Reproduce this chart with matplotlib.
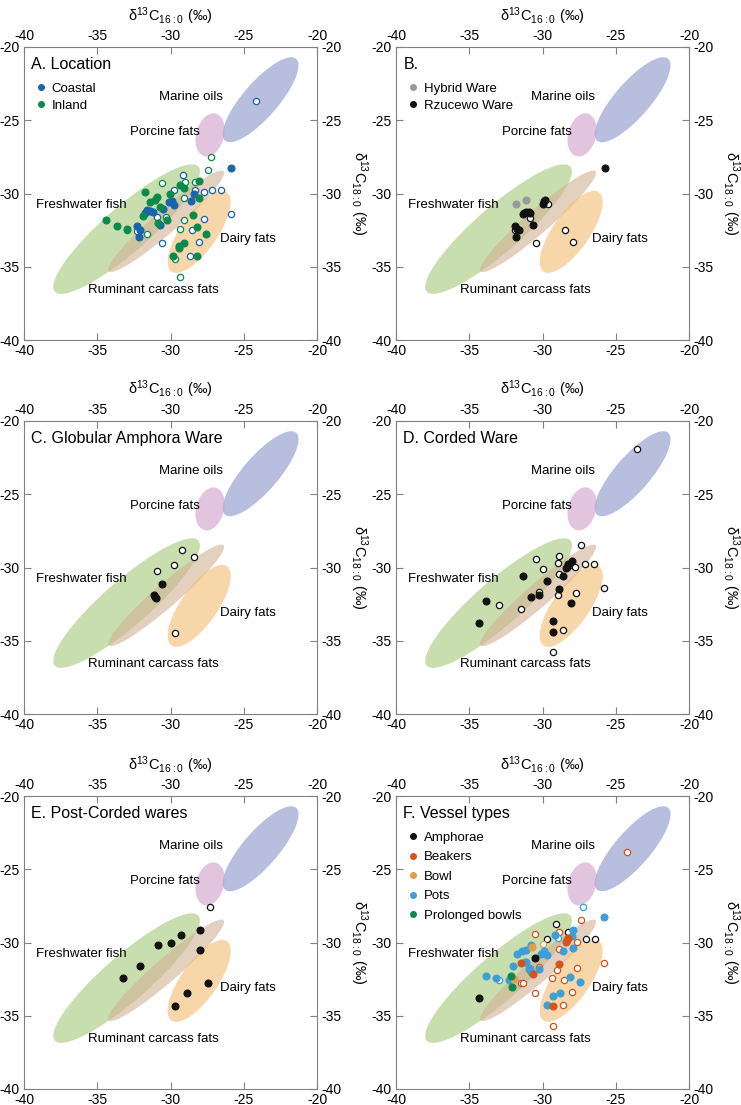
import matplotlib
matplotlib.use("Agg")
import matplotlib.pyplot as plt
from matplotlib.patches import Ellipse
from matplotlib.lines import Line2D

plt.rcParams['font.family'] = ['Liberation Sans', 'DejaVu Sans']
plt.rcParams['mathtext.fontset'] = 'custom'
plt.rcParams['mathtext.rm'] = 'Liberation Sans'
plt.rcParams['mathtext.default'] = 'regular'
plt.rcParams['axes.unicode_minus'] = False

# reference ellipses: (name, centre x, centre y, major, minor, angle, colour)
ref_names = ["Marine oils", "Porcine fats", "Freshwater fish", "Ruminant carcass fats", "Dairy fats"]
ref_cx = [-23.85, -27.3, -33.0, -30.3, -28.04]
ref_cy = [-23.6, -26.0, -32.43, -31.9, -32.62]
ref_major = [7.4, 3.0, 13.0, 10.4, 6.6]
ref_minor = [2.4, 1.9, 3.1, 1.6, 2.5]
ref_angle = [49, 75, 41, 41, 55]
ref_colors = ['#8993c8', '#cf9dcb', '#a6c97a', '#d2b193', '#f3bb71']
# label positions (data coords) and alignment
lab_x = [-28.6, -30.4, -36.1, -31.2, -26.6]
lab_y = [-23.4, -25.8, -30.8, -36.6, -33.1]
lab_ha = ['center', 'center', 'center', 'center', 'left']

# A. Location
coastal_filled = [(-25.84, -28.24), (-28.43, -30.0), (-28.63, -30.5), (-30.11, -30.6), (-29.77, -30.78),
                  (-30.53, -31.05), (-31.6, -31.15), (-31.4, -31.2), (-31.75, -31.3), (-31.2, -31.25),
                  (-30.73, -32.15), (-32.26, -32.24), (-32.08, -32.47), (-32.18, -33.0), (-29.9, -30.5)]
coastal_open = [(-24.18, -23.7), (-29.16, -28.72), (-29.77, -29.73), (-28.36, -29.73), (-27.74, -29.9),
                (-27.14, -29.73), (-26.55, -29.73), (-30.9, -31.6), (-27.74, -31.75), (-25.84, -31.37),
                (-28.55, -32.5), (-32.3, -32.58), (-30.55, -33.4), (-28.03, -33.3), (-28.7, -34.25)]
inland_filled = [(-29.36, -29.43), (-28.03, -29.13), (-29.08, -29.64), (-31.76, -29.9), (-30.91, -30.23),
                 (-30.04, -30.0), (-28.03, -30.3), (-31.03, -30.45), (-31.37, -30.6), (-31.87, -31.55),
                 (-30.26, -31.78), (-34.43, -31.78), (-30.87, -32.0), (-33.65, -32.24), (-33.0, -32.4),
                 (-28.48, -31.45), (-28.2, -32.3), (-27.57, -32.76), (-29.06, -33.4), (-29.43, -33.7),
                 (-29.4, -33.55), (-29.81, -34.3), (-28.2, -34.3), (-30.7, -30.9)]
inland_open = [(-27.26, -27.5), (-27.44, -28.42), (-30.55, -29.29), (-29.0, -29.2), (-28.36, -29.2),
               (-29.08, -30.3), (-30.33, -31.6), (-33.0, -32.5), (-31.6, -32.74), (-29.1, -31.83),
               (-29.34, -32.4), (-29.72, -34.5), (-29.36, -35.73)]

# B.
hybrid_filled = [(-31.78, -30.71), (-31.14, -30.43)]
rzucewo_filled = [(-29.91, -30.5), (-29.85, -30.45), (-30.0, -30.7), (-31.25, -31.3), (-31.1, -31.25),
                  (-30.95, -31.25), (-30.85, -31.3), (-31.3, -31.4), (-30.64, -32.15), (-31.9, -32.2),
                  (-31.75, -32.4), (-31.6, -32.5), (-31.8, -33.0), (-25.75, -28.24)]
b_open = [(-29.65, -30.7), (-30.84, -31.67), (-31.9, -32.5), (-30.46, -33.4), (-28.45, -32.5), (-27.95, -33.3)]

# C. Globular Amphora Ware
gaw_filled = [(-30.58, -31.1), (-31.1, -31.9), (-31.05, -32.0), (-31.0, -32.1)]
gaw_open = [(-29.19, -28.8), (-28.4, -29.3), (-29.78, -29.8), (-30.9, -30.27), (-29.7, -34.5)]

# D. Corded Ware
cw_filled = [(-27.99, -29.55), (-28.28, -29.77), (-28.41, -30.05), (-28.35, -29.95), (-28.58, -30.57),
             (-31.35, -30.57), (-29.67, -30.89), (-28.87, -31.48), (-30.78, -31.98), (-30.26, -31.89),
             (-33.86, -32.28), (-28.08, -32.39), (-34.35, -33.78), (-29.3, -33.67), (-29.3, -34.37)]
cw_open = [(-27.37, -28.48), (-30.46, -29.39), (-28.87, -29.23), (-28.96, -29.66), (-29.95, -30.09),
           (-28.1, -29.85), (-27.76, -29.95), (-27.08, -29.75), (-26.48, -29.75), (-28.87, -30.41),
           (-25.8, -31.39), (-30.26, -31.7), (-28.96, -31.86), (-27.68, -31.75), (-32.97, -32.57),
           (-31.47, -32.8), (-28.58, -34.28), (-29.28, -35.78), (-23.55, -21.9)]

# E. Post-Corded wares
pcw_filled = [(-27.97, -29.18), (-29.27, -29.47), (-29.97, -30.04), (-30.88, -30.16), (-27.97, -30.5),
              (-32.06, -31.57), (-33.26, -32.43), (-27.43, -32.77), (-28.84, -33.45), (-29.71, -34.32)]
pcw_open = [(-27.28, -27.58)]

# F. Vessel types
amph_filled = [(-30.48, -31.08), (-34.35, -33.76)]
amph_open = [(-29.07, -28.77), (-28.27, -29.27), (-29.66, -29.78), (-27.03, -29.78), (-26.42, -29.78)]
beak_filled = [(-28.3, -29.8), (-28.4, -29.95), (-28.25, -29.7), (-31.45, -31.38), (-28.87, -31.49),
               (-30.62, -32.17), (-29.28, -34.33)]
beak_open = [(-24.23, -23.8), (-27.39, -28.48), (-28.87, -29.27), (-30.48, -29.39), (-27.62, -29.96),
             (-28.87, -30.42), (-30.23, -31.68), (-28.98, -31.88), (-27.64, -31.77), (-25.8, -31.38),
             (-31.47, -32.78), (-29.33, -32.44), (-28.53, -32.55), (-28.0, -33.37), (-30.48, -33.46),
             (-28.6, -34.26), (-29.3, -35.7), (-31.3, -32.74)]
bowl_filled = [(-30.74, -30.28), (-31.97, -32.48)]
bowl_open = [(-29.96, -30.1)]
pots_filled = [(-25.8, -28.28), (-27.89, -29.18), (-29.18, -29.5), (-28.0, -29.55), (-27.89, -30.4),
               (-28.62, -30.58), (-30.81, -30.19), (-31.15, -30.51), (-31.4, -30.56), (-31.77, -30.78),
               (-30.1, -30.78), (-29.9, -30.58), (-29.7, -30.87), (-31.2, -31.3), (-31.1, -31.3),
               (-31.99, -31.58), (-30.25, -31.84), (-30.9, -31.84), (-30.76, -32.0), (-33.87, -32.26),
               (-33.17, -32.44), (-32.3, -32.55), (-28.1, -32.37), (-27.41, -32.73), (-28.8, -33.46),
               (-29.3, -33.64), (-29.67, -34.3)]
pots_open = [(-27.21, -27.6), (-28.97, -29.7), (-30.84, -31.72), (-32.95, -32.55), (-32.2, -32.5)]
prol_filled = [(-32.17, -32.28), (-32.06, -33.05)]

c_coastal = '#1a63ad'
c_inland = '#0b8a4c'
c_gray = '#9a9a9a'
c_black = '#111111'
c_beak = '#d4531c'
c_bowl = '#e39b4e'
c_pots = '#3d9fd6'

xlab = r'$\delta^{13}C_{16:0}$ (‰)'
ylab = r'$\delta^{13}C_{18:0}$ (‰)'

fig = plt.figure(figsize=(7.41, 11.05), dpi=100)
lefts = [24 / 741, 396 / 741]
bottoms = [1 - 340 / 1105, 1 - 714 / 1105, 1 - 1089 / 1105]
w = 293 / 741
h = 293 / 1105

axes = []
for r in range(3):
    for c in range(2):
        ax = fig.add_axes([lefts[c], bottoms[r], w, h])
        axes.append(ax)


def setup(ax):
    ax.set_xlim(-40, -20)
    ax.set_ylim(-40, -20)
    ax.set_xticks([-40, -35, -30, -25, -20])
    ax.set_yticks([-40, -35, -30, -25, -20])
    ax.tick_params(direction='in', top=True, right=True, labeltop=True, labelright=True,
                   length=5, color='#808080', labelsize=10, pad=3)
    for s in ax.spines.values():
        s.set_color('#808080')
    ax.xaxis.set_label_position('top')
    ax.set_xlabel(xlab, fontsize=10.5, labelpad=6)
    ax.yaxis.set_label_position('right')
    ax.set_ylabel(ylab, fontsize=10.5, rotation=270, labelpad=20)
    for i in range(len(ref_names)):
        e = Ellipse((ref_cx[i], ref_cy[i]), ref_major[i], ref_minor[i], angle=ref_angle[i],
                    facecolor=ref_colors[i], edgecolor='none', alpha=0.6, zorder=1)
        ax.add_patch(e)
        ax.text(lab_x[i], lab_y[i], ref_names[i], ha=lab_ha[i], va='center', fontsize=9.5, zorder=2)


def pts(ax, data, color, filled):
    xs = [p[0] for p in data]
    ys = [p[1] for p in data]
    if filled:
        ax.plot(xs, ys, 'o', ms=5, mfc=color, mec=color, mew=0.8, ls='none', zorder=4)
    else:
        ax.plot(xs, ys, 'o', ms=4.5, mfc='white', mec=color, mew=0.9, ls='none', zorder=3)


def title(ax, text):
    ax.text(0.025, 0.94, text, transform=ax.transAxes, fontsize=11.5, va='center', ha='left')


def legend(ax, text, labels, colors, gap):
    title(ax, text)
    handles = [Line2D([], [], marker='o', ls='none', ms=4, mfc=c, mec=c) for c in colors]
    ax.legend(handles, labels, loc='upper left', bbox_to_anchor=(0.0, 0.91), frameon=False,
              fontsize=9.5, handletextpad=0.2, labelspacing=gap, borderaxespad=0.3, handlelength=1.2)


for ax in axes:
    setup(ax)

ax = axes[0]
pts(ax, coastal_open, c_coastal, False)
pts(ax, inland_open, c_inland, False)
pts(ax, coastal_filled, c_coastal, True)
pts(ax, inland_filled, c_inland, True)
legend(ax, "A. Location", ["Coastal", "Inland"], [c_coastal, c_inland], 0.35)

ax = axes[1]
pts(ax, b_open, c_black, False)
pts(ax, rzucewo_filled, c_black, True)
pts(ax, hybrid_filled, c_gray, True)
legend(ax, "B.", ["Hybrid Ware", "Rzucewo Ware"], [c_gray, c_black], 0.35)

ax = axes[2]
pts(ax, gaw_open, c_black, False)
pts(ax, gaw_filled, c_black, True)
title(ax, "C. Globular Amphora Ware")

ax = axes[3]
pts(ax, cw_open, c_black, False)
pts(ax, cw_filled, c_black, True)
title(ax, "D. Corded Ware")

ax = axes[4]
pts(ax, pcw_open, c_black, False)
pts(ax, pcw_filled, c_black, True)
title(ax, "E. Post-Corded wares")

ax = axes[5]
pts(ax, amph_open, c_black, False)
pts(ax, beak_open, c_beak, False)
pts(ax, bowl_open, c_bowl, False)
pts(ax, pots_open, c_pots, False)
pts(ax, pots_filled, c_pots, True)
pts(ax, beak_filled, c_beak, True)
pts(ax, bowl_filled, c_bowl, True)
pts(ax, prol_filled, c_inland, True)
pts(ax, amph_filled, c_black, True)
legend(ax, "F. Vessel types", ["Amphorae", "Beakers", "Bowl", "Pots", "Prolonged bowls"],
       [c_black, c_beak, c_bowl, c_pots, c_inland], 0.55)

fig.savefig("out.png", dpi=100)
